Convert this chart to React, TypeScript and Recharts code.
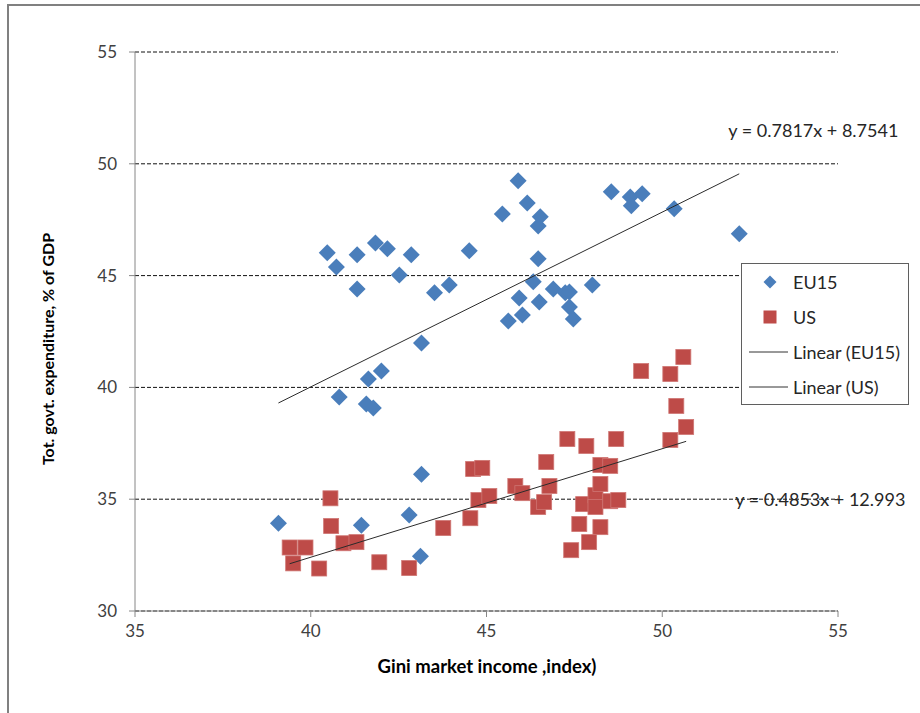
import { CartesianGrid, Label, Legend, ReferenceDot, Scatter, ScatterChart, XAxis, YAxis } from "recharts";

// EU15: Gini of market income vs. total government expenditure (% of GDP)
const euGini = [
  40.47, 40.73, 41.32, 41.32, 41.84, 42.18, 42.52, 42.86, 43.52, 43.94,
  44.51, 45.45, 45.9, 46.16, 46.53, 46.47, 46.47, 46.33, 45.93, 46.5,
  45.62, 46.02, 46.9, 47.24, 47.36, 47.36, 47.47, 48.01, 48.55, 49.09,
  49.43, 49.12, 50.34, 52.19, 42.01, 41.64, 40.81, 41.58, 41.78, 43.15,
  39.08, 41.44, 43.15, 42.8, 43.12,
];
const euSpend = [
  46.02, 45.39, 45.93, 44.4, 46.46, 46.2, 45.03, 45.93, 44.23, 44.58,
  46.11, 47.76, 49.24, 48.25, 47.63, 47.22, 45.75, 44.72, 44.0, 43.82,
  42.97, 43.24, 44.4, 44.23, 44.27, 43.6, 43.06, 44.58, 48.75, 48.52,
  48.66, 48.12, 47.99, 46.87, 40.73, 40.38, 39.57, 39.26, 39.08, 41.99,
  33.93, 33.84, 36.12, 34.29, 32.45,
];

// US
const usGini = [
  39.4, 39.85, 39.5, 40.24, 40.56, 40.58, 40.93, 41.3, 41.95, 42.8,
  43.77, 44.54, 44.62, 44.88, 44.77, 45.08, 45.82, 46.02, 46.47, 46.64,
  46.7, 46.79, 47.3, 47.41, 47.64, 47.75, 47.84, 47.92, 48.1, 48.1,
  48.24, 48.24, 48.24, 48.52, 48.52, 48.69, 48.75, 49.4, 50.23, 50.6,
  50.4, 50.68, 50.23,
];
const usSpend = [
  32.84, 32.84, 32.13, 31.9, 35.04, 33.8, 33.03, 33.08, 32.18, 31.92,
  33.71, 34.15, 36.35, 36.4, 34.96, 35.14, 35.59, 35.27, 34.65, 34.87,
  36.66, 35.59, 37.69, 32.72, 33.89, 34.78, 37.38, 33.08, 35.18, 34.65,
  35.68, 36.53, 33.75, 36.49, 34.91, 37.69, 34.96, 40.73, 40.6, 41.36,
  39.17, 38.23, 37.65,
];

// linear trend fits: [slope, intercept]
const euFit = [0.7817, 8.7541];
const usFit = [0.4853, 12.993];

const xTicks = [35, 40, 45, 50, 55];
const yTicks = [30, 35, 40, 45, 50, 55];
const seriesNames = ["EU15", "US", "Linear (EU15)", "Linear (US)"];

const BLUE = "#4a7ebb";
const RED = "#be4b48";
const FONT = "Lato, 'Open Sans', sans-serif";

const toPoints = (xs: number[], ys: number[]) => xs.map((x, i) => ({ x, y: ys[i] }));

const trend = (xs: number[], fit: number[]) => {
  const lo = Math.min(...xs);
  const hi = Math.max(...xs);
  return [
    { x: lo, y: fit[0] * lo + fit[1] },
    { x: hi, y: fit[0] * hi + fit[1] },
  ];
};

const eqText = (fit: number[]) => `y = ${fit[0]}x + ${fit[1]}`;

const Diamond = (props: any) => {
  const { cx, cy } = props;
  const r = 8.5;
  return <path d={`M${cx},${cy - r}L${cx + r},${cy}L${cx},${cy + r}L${cx - r},${cy}Z`} fill={BLUE} />;
};

const Square = (props: any) => {
  const { cx, cy } = props;
  const s = 15;
  return <rect x={cx - s / 2} y={cy - s / 2} width={s} height={s} fill={RED} stroke="#cf7673" strokeWidth={0.8} />;
};

const NoMark = () => <g />;

function LegendBox({ payload }: any) {
  const items = [...(payload ?? [])].sort(
    (a: any, b: any) => seriesNames.indexOf(a.value) - seriesNames.indexOf(b.value)
  );
  return (
    <div
      style={{
        width: 168,
        height: 142,
        boxSizing: "border-box",
        border: "1px solid #5f5f5f",
        background: "#fff",
        position: "relative",
        fontFamily: FONT,
        fontSize: 18,
        color: "#262626",
      }}
    >
      {items.map((entry: any, i: number) => (
        <div
          key={entry.value}
          style={{ position: "absolute", left: 0, top: 7 + i * 35, height: 22, display: "flex", alignItems: "center" }}
        >
          <svg width={51} height={22}>
            {entry.type === "diamond" && <path d="M28,4.5L34.5,11L28,17.5L21.5,11Z" fill={BLUE} />}
            {entry.type === "square" && <rect x={21.5} y={4.5} width={13} height={13} fill={RED} />}
            {entry.type === "plainline" && <line x1={7} x2={46} y1={11} y2={11} stroke="#333" strokeWidth={1} />}
          </svg>
          <span style={{ whiteSpace: "nowrap" }}>{entry.value}</span>
        </div>
      ))}
    </div>
  );
}

export default function App() {
  return (
    <div style={{ position: "absolute", left: 0, top: 0, width: 920, height: 713, background: "#fff", overflow: "hidden", fontFamily: FONT }}>
      <div
        style={{
          position: "absolute",
          left: 7,
          top: 4,
          width: 960,
          height: 760,
          borderTop: "2px solid #808080",
          borderLeft: "2px solid #808080",
        }}
      />
      <ScatterChart width={920} height={713} margin={{ top: 52, right: 82, bottom: 42, left: 55 }}>
        <CartesianGrid vertical={false} stroke="#111" strokeDasharray="4 2" />
        <XAxis
          type="number"
          dataKey="x"
          domain={[35, 55]}
          ticks={xTicks}
          allowDataOverflow
          height={60}
          axisLine={{ stroke: "#868686" }}
          tickLine={{ stroke: "#868686" }}
          tickSize={6}
          tickMargin={8}
          tick={{ fill: "#404040", fontSize: 17 }}
        >
          <Label
            content={() => (
              <text x={487} y={666} textAnchor="middle" dominantBaseline="central" fontWeight="bold" fontSize={18.5} fill="#000">
                Gini market income ,index)
              </text>
            )}
          />
        </XAxis>
        <YAxis
          type="number"
          dataKey="y"
          domain={[30, 55]}
          ticks={yTicks}
          allowDataOverflow
          width={80}
          axisLine={{ stroke: "#868686" }}
          tickLine={{ stroke: "#868686" }}
          tickSize={6}
          tickMargin={12}
          tick={{ fill: "#404040", fontSize: 17 }}
        >
          <Label
            content={() => (
              <text
                x={47}
                y={349}
                transform="rotate(-90 47 349)"
                textAnchor="middle"
                dominantBaseline="central"
                fontWeight="bold"
                fontSize={16}
                fill="#000"
              >
                Tot. govt. expenditure, % of GDP
              </text>
            )}
          />
        </YAxis>
        <Legend
          layout="vertical"
          align="center"
          verticalAlign="middle"
          content={<LegendBox />}
          wrapperStyle={{ left: 741, top: 263, width: 168, height: 142 }}
        />
        <Scatter name="EU15" data={toPoints(euGini, euSpend)} fill={BLUE} shape={Diamond} legendType="diamond" isAnimationActive={false} />
        <Scatter name="US" data={toPoints(usGini, usSpend)} fill={RED} shape={Square} legendType="square" isAnimationActive={false} />
        <Scatter
          name="Linear (EU15)"
          data={trend(euGini, euFit)}
          fill="#333"
          line={{ stroke: "#2b2b2b", strokeWidth: 1 }}
          shape={NoMark}
          legendType="plainline"
          isAnimationActive={false}
        />
        <Scatter
          name="Linear (US)"
          data={trend(usGini, usFit)}
          fill="#333"
          line={{ stroke: "#2b2b2b", strokeWidth: 1 }}
          shape={NoMark}
          legendType="plainline"
          isAnimationActive={false}
        />
        <ReferenceDot
          x={51.88}
          y={51.48}
          r={0}
          fill="none"
          stroke="none"
          ifOverflow="visible"
          label={{ value: eqText(euFit), position: "right", offset: 0, fill: "#262626", fontSize: 18 }}
        />
        <ReferenceDot
          x={52.08}
          y={35}
          r={0}
          fill="none"
          stroke="none"
          ifOverflow="visible"
          label={{ value: eqText(usFit), position: "right", offset: 0, fill: "#262626", fontSize: 18 }}
        />
      </ScatterChart>
    </div>
  );
}
